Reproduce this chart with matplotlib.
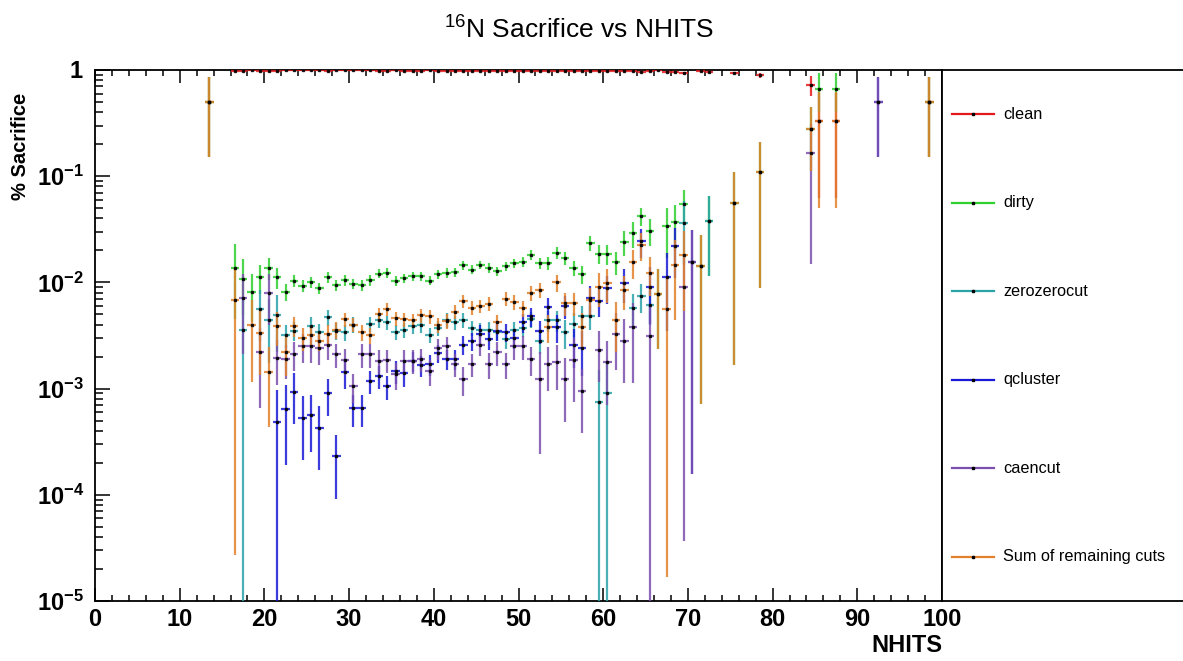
import numpy as np
import matplotlib
matplotlib.use("Agg")
import matplotlib.pyplot as plt
from matplotlib import ticker

plt.rcParams['font.family'] = ['Liberation Sans', 'DejaVu Sans']
plt.rcParams['mathtext.fontset'] = 'custom'
plt.rcParams['mathtext.rm'] = 'Liberation Sans'
plt.rcParams['mathtext.bf'] = 'Liberation Sans:bold'
plt.rcParams['mathtext.it'] = 'Liberation Sans:italic'

# NHITS bins (lower edge, width 1), sacrifice fractions and errors
clean_bins = [13] + list(range(16, 70)) + [71, 72, 75, 78, 84, 85, 87, 98]
clean_vals = [0.5,
              0.986, 0.989, 0.992, 0.989, 0.986, 0.989, 0.992, 0.990, 0.991, 0.990,
              0.991, 0.989, 0.991, 0.990, 0.990, 0.991, 0.990, 0.988, 0.988, 0.990,
              0.989, 0.989, 0.989, 0.990, 0.988, 0.988, 0.988, 0.986, 0.987, 0.985,
              0.986, 0.987, 0.986, 0.985, 0.984, 0.982, 0.985, 0.985, 0.981, 0.983,
              0.986, 0.988, 0.976, 0.981, 0.981, 0.984, 0.976, 0.971, 0.958, 0.969,
              0.992, 0.966, 0.963, 0.945,
              0.986, 0.962, 0.944, 0.89, 0.72, 0.333, 0.333, 0.5]
clean_errs = [0.35] + [0.004] * 54 + [0.006, 0.02, 0.02, 0.05, 0.15, 0.27, 0.27, 0.35]

dirty_bins = [13] + list(range(16, 70)) + [71, 72, 75, 78, 84, 85, 87, 98]
dirty_vals = [0.5,
              0.0137, 0.0107, 0.0081, 0.0112, 0.0137, 0.0112, 0.0081, 0.0104, 0.0093, 0.0100,
              0.0088, 0.0112, 0.0094, 0.0105, 0.0097, 0.0094, 0.0105, 0.0121, 0.0123, 0.0104,
              0.0109, 0.0114, 0.0115, 0.0104, 0.0119, 0.0123, 0.0125, 0.0145, 0.0132, 0.0147,
              0.0137, 0.0127, 0.0142, 0.0151, 0.0156, 0.0182, 0.0151, 0.0152, 0.0189, 0.0169,
              0.0137, 0.0120, 0.0237, 0.0187, 0.0186, 0.0156, 0.0242, 0.0289, 0.0422, 0.0306,
              0.0078, 0.0338, 0.0368, 0.0547,
              0.0144, 0.0382, 0.0557, 0.11, 0.28, 0.667, 0.667, 0.5]
dirty_rel = [0.7,
             0.67, 0.54, 0.48, 0.30, 0.23, 0.23, 0.18, 0.13, 0.13, 0.12,
             0.12, 0.11, 0.12, 0.11, 0.11, 0.11, 0.11, 0.10, 0.10, 0.11,
             0.10, 0.10, 0.10, 0.10, 0.10, 0.10, 0.10, 0.09, 0.10, 0.09,
             0.10, 0.10, 0.10, 0.10, 0.10, 0.10, 0.12, 0.13, 0.13, 0.14,
             0.17, 0.19, 0.16, 0.20, 0.21, 0.24, 0.27, 0.27, 0.20, 0.28,
             0.70, 0.50, 0.45, 0.37,
             0.95, 0.7, 0.97, 0.92, 0.6, 0.4, 0.4, 0.7]

zz_bins = [17, 19, 20, 21, 22, 23, 25, 26, 27, 28, 29, 30] + list(range(32, 59)) + [59, 60, 63, 64, 65, 69, 72]
zz_vals = [0.0036, 0.0056, 0.0044, 0.0049, 0.0032, 0.0035, 0.0039, 0.0034, 0.0047, 0.0035, 0.0034, 0.0040,
           0.0041, 0.0044, 0.0042, 0.0034, 0.0036, 0.0039, 0.0040, 0.0032, 0.0037, 0.0044,
           0.0042, 0.0044, 0.0037, 0.0036, 0.0036, 0.0034, 0.0029, 0.0036, 0.0037, 0.0045,
           0.0028, 0.0044, 0.0044, 0.0034, 0.0041, 0.0048, 0.0048,
           0.00075, 0.0009, 0.0058, 0.0074, 0.0061, 0.0366, 0.0382]
zz_rel = [0.999, 0.5, 0.6, 0.55, 0.25, 0.2, 0.2, 0.2, 0.18, 0.18, 0.17, 0.17,
          0.16, 0.16, 0.16, 0.16, 0.16, 0.16, 0.16, 0.16, 0.16, 0.16,
          0.16, 0.16, 0.16, 0.16, 0.18, 0.18, 0.18, 0.18, 0.18, 0.18,
          0.25, 0.22, 0.22, 0.3, 0.25, 0.25, 0.25,
          0.999, 0.999, 0.35, 0.3, 0.35, 0.6, 0.7]

qc_bins = list(range(21, 61)) + [62, 64, 65, 67, 68, 70, 92]
qc_vals = [0.00049, 0.00064, 0.00093, 0.00053, 0.00056, 0.00043, 0.00090, 0.00023, 0.00142, 0.00065,
           0.00065, 0.00118, 0.00131, 0.00105, 0.00146, 0.00139, 0.00183, 0.00166, 0.0017, 0.00216,
           0.0019, 0.0019, 0.0026, 0.0028, 0.0033, 0.0029, 0.0035, 0.0034, 0.0030, 0.0042,
           0.0048, 0.0035, 0.0059, 0.0038, 0.0060, 0.0026, 0.0024, 0.0071, 0.0067, 0.0089,
           0.0099, 0.0245, 0.0091, 0.0112, 0.0219, 0.0157, 0.5]
qc_rel = [0.999, 0.7, 0.5, 0.6, 0.55, 0.6, 0.38, 0.6, 0.3, 0.33,
          0.33, 0.25, 0.25, 0.25, 0.25, 0.25, 0.22, 0.22, 0.22, 0.2,
          0.22, 0.22, 0.2, 0.2, 0.2, 0.2, 0.2, 0.2, 0.22, 0.2,
          0.2, 0.25, 0.22, 0.3, 0.25, 0.4, 0.45, 0.3, 0.3, 0.3,
          0.35, 0.3, 0.55, 0.69, 0.5, 0.99, 0.7]

caen_bins = [17] + list(range(19, 58)) + list(range(59, 64)) + [65, 69, 70, 84, 92]
caen_vals = [0.0071,
             0.0022, 0.0080, 0.00196, 0.00191, 0.0021, 0.0025, 0.0025, 0.0024, 0.0026, 0.0021,
             0.00186, 0.00105, 0.0021, 0.0021, 0.00183, 0.00185, 0.00136, 0.00183, 0.00183, 0.0019,
             0.00146, 0.0024, 0.0025, 0.00171, 0.00122, 0.0017, 0.0026, 0.0017, 0.0022, 0.0017,
             0.0025, 0.0025, 0.00188, 0.00122, 0.00171, 0.00177, 0.00122, 0.00186, 0.00095,
             0.0023, 0.00177, 0.0033, 0.0028, 0.0038,
             0.0031, 0.0091, 0.0157, 0.164, 0.5]
caen_rel = [0.7,
            0.7, 0.5, 0.45, 0.35, 0.3, 0.3, 0.3, 0.3, 0.28, 0.25,
            0.28, 0.3, 0.25, 0.25, 0.25, 0.25, 0.28, 0.25, 0.25, 0.25,
            0.28, 0.22, 0.22, 0.25, 0.3, 0.25, 0.22, 0.28, 0.25, 0.28,
            0.25, 0.25, 0.3, 0.8, 0.45, 0.45, 0.6, 0.6, 0.6,
            0.5, 0.6, 0.55, 0.6, 0.7,
            0.999, 0.996, 0.99, 0.91, 0.7]

sum_bins = [13, 16] + list(range(18, 70)) + [71, 75, 78, 84, 85, 87, 98]
sum_vals = [0.5, 0.00683,
            0.0040, 0.00336, 0.00144, 0.0039, 0.0022, 0.0039, 0.0030, 0.0032, 0.0028, 0.0033,
            0.0036, 0.0045, 0.0040, 0.0034, 0.0032, 0.0050, 0.0056, 0.0046, 0.0045, 0.0044,
            0.0049, 0.0048, 0.0040, 0.0043, 0.0053, 0.0067, 0.0058, 0.0060, 0.0063, 0.0042,
            0.0070, 0.0065, 0.0057, 0.0080, 0.0085, 0.0038, 0.0100, 0.0064, 0.0064, 0.0038,
            0.0068, 0.0090, 0.0098, 0.0044, 0.0085, 0.0155, 0.0225, 0.0123, 0.0078, 0.0056,
            0.0146, 0.0181,
            0.0144, 0.0557, 0.11, 0.28, 0.333, 0.333, 0.5]
sum_rel = [0.7, 0.996,
           0.71, 0.6, 0.7, 0.35, 0.4, 0.22, 0.25, 0.2, 0.2, 0.2,
           0.18, 0.15, 0.15, 0.17, 0.17, 0.15, 0.14, 0.15, 0.15, 0.15,
           0.15, 0.15, 0.16, 0.16, 0.15, 0.14, 0.15, 0.15, 0.15, 0.18,
           0.15, 0.16, 0.17, 0.16, 0.17, 0.3, 0.18, 0.25, 0.25, 0.35,
           0.3, 0.35, 0.35, 0.5, 0.35, 0.3, 0.3, 0.4, 0.7, 0.997,
           0.7, 0.7,
           0.95, 0.97, 0.92, 0.6, 0.85, 0.85, 0.7]

labels = ["clean", "dirty", "zerozerocut", "qcluster", "caencut", "Sum of remaining cuts"]
colors = ["#e31a1c", "#2fd12f", "#2ba3a8", "#1a1ad6", "#7b4fae", "#e2802c"]

series = [
    (clean_bins, clean_vals, clean_errs),
    (dirty_bins, dirty_vals, np.array(dirty_rel) * np.array(dirty_vals)),
    (zz_bins, zz_vals, np.array(zz_rel) * np.array(zz_vals)),
    (qc_bins, qc_vals, np.array(qc_rel) * np.array(qc_vals)),
    (caen_bins, caen_vals, np.array(caen_rel) * np.array(caen_vals)),
    (sum_bins, sum_vals, np.array(sum_rel) * np.array(sum_vals)),
]

fig = plt.figure(figsize=(11.83, 6.61), dpi=100)
ax = fig.add_axes([95 / 1183, 60 / 661, 847 / 1183, 531 / 661])
ax_leg = fig.add_axes([942 / 1183, 60 / 661, 241 / 1183, 531 / 661])

for (bins, vals, errs), col in zip(series, colors):
    x = np.array(bins) + 0.5
    ax.errorbar(x, vals, yerr=errs, xerr=0.5, fmt='s', ms=2, mfc='black', mec='black',
                ecolor=col, elinewidth=1.6, capsize=0, alpha=0.85, zorder=3)

ax.set_yscale('log')
ax.set_xlim(0, 100)
ax.set_ylim(1e-5, 1)

ax.xaxis.set_major_locator(ticker.MultipleLocator(10))
ax.xaxis.set_minor_locator(ticker.MultipleLocator(2))
ax.yaxis.set_major_locator(ticker.LogLocator(base=10))
ax.yaxis.set_minor_locator(ticker.LogLocator(base=10, subs=np.arange(2, 10)))
ax.yaxis.set_minor_formatter(ticker.NullFormatter())


def ylab(v, pos):
    e = int(round(np.log10(v)))
    if e == 0:
        return r'$\mathbf{1}$'
    return r'$\mathbf{10^{%d}}$' % e


ax.yaxis.set_major_formatter(ticker.FuncFormatter(ylab))
ax.tick_params(axis='x', which='major', direction='in', length=9.5, width=1.1, top=True,
               labelsize=17, pad=5)
ax.tick_params(axis='x', which='minor', direction='in', length=4.5, width=1.1, top=True)
ax.tick_params(axis='y', which='major', direction='in', length=11, width=1.1, labelsize=17, pad=8)
ax.tick_params(axis='y', which='minor', direction='in', length=5.5, width=1.1)
for lbl in ax.get_xticklabels():
    lbl.set_fontweight('bold')
for sp in ax.spines.values():
    sp.set_linewidth(1.3)

# legend panel
ax_leg.set_xlim(0, 1)
ax_leg.set_ylim(0, 1)
ax_leg.set_xticks([])
ax_leg.set_yticks([])
ax_leg.spines['right'].set_visible(False)
for s in ['top', 'bottom', 'left']:
    ax_leg.spines[s].set_linewidth(1.3)
for i, (lab, col) in enumerate(zip(labels, colors)):
    yy = (5.5 - i) / 6
    ax_leg.plot([0.041, 0.216], [yy, yy], color=col, lw=1.6)
    ax_leg.plot([0.129], [yy], 's', ms=2, color='black')
    ax_leg.text(0.253, yy, lab, ha='left', va='center', fontsize=11.7)

fig.text(0.489, 0.955, r'$^{16}$N Sacrifice vs NHITS', ha='center', va='center', fontsize=19)
fig.text(0.017, 0.778, '% Sacrifice', rotation=90, ha='center', va='center',
         fontsize=14.5, fontweight='bold')
fig.text(942 / 1183, 1 - 645 / 661, 'NHITS', ha='right', va='center', fontsize=17,
         fontweight='bold')

fig.savefig('out.png', dpi=100)
